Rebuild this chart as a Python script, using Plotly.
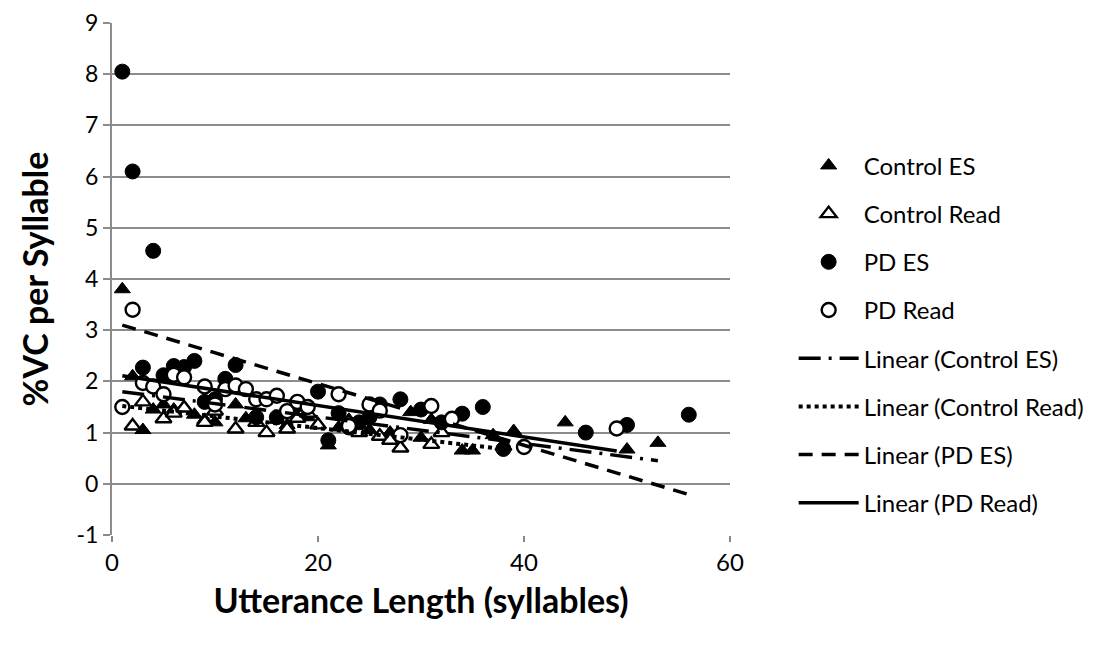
import plotly.graph_objects as go

# Control ES (filled triangles)
ctrl_es_x = [1, 2, 3, 4, 5, 6, 7, 8, 9, 10, 12, 13, 14, 16, 17, 19, 21, 22, 23, 24, 25, 27, 29, 30, 31, 34, 35, 37, 39, 44, 50, 53]
ctrl_es_y = [3.8, 2.1, 1.05, 1.45, 1.55, 1.45, 1.5, 1.35, 1.25, 1.2, 1.55, 1.28, 1.2, 1.25, 1.15, 1.3, 0.75, 1.1, 1.25, 1.15, 1.05, 1.0, 1.4, 0.9, 1.25, 0.65, 0.65, 0.95, 1.03, 1.2, 0.67, 0.8]

# Control Read (open triangles)
ctrl_rd_x = [2, 3, 5, 6, 7, 9, 10, 12, 14, 15, 17, 18, 19, 20, 23, 24, 26, 27, 28, 31, 32, 38]
ctrl_rd_y = [1.13, 1.6, 1.27, 1.38, 1.48, 1.2, 1.42, 1.07, 1.2, 1.0, 1.07, 1.28, 1.38, 1.15, 1.2, 1.0, 0.93, 0.85, 0.7, 0.77, 1.0, 0.73]

# PD ES (filled circles)
pd_es_x = [1, 2, 3, 4, 5, 6, 7, 8, 9, 10, 11, 12, 14, 16, 18, 20, 21, 22, 23, 24, 25, 26, 28, 30, 32, 34, 36, 38, 46, 50, 56]
pd_es_y = [8.05, 6.1, 2.27, 4.55, 2.12, 2.3, 2.28, 2.4, 1.6, 1.65, 2.05, 2.32, 1.3, 1.3, 1.55, 1.8, 0.85, 1.38, 1.1, 1.2, 1.3, 1.55, 1.65, 1.45, 1.2, 1.37, 1.5, 0.68, 1.0, 1.15, 1.35]

# PD Read (open circles)
pd_rd_x = [1, 2, 3, 4, 5, 6, 7, 9, 10, 11, 12, 13, 14, 15, 16, 17, 18, 19, 22, 23, 25, 26, 28, 31, 33, 40, 49]
pd_rd_y = [1.5, 3.4, 1.97, 1.9, 1.75, 2.13, 2.08, 1.9, 1.55, 1.85, 1.92, 1.85, 1.65, 1.65, 1.72, 1.42, 1.6, 1.5, 1.75, 1.13, 1.55, 1.43, 0.95, 1.52, 1.27, 0.72, 1.08]

# trendline end points
trend_ctrl_es_x = [1, 53]
trend_ctrl_es_y = [1.8, 0.45]
trend_ctrl_rd_x = [1, 38]
trend_ctrl_rd_y = [1.52, 0.68]
trend_pd_es_x = [1, 56]
trend_pd_es_y = [3.1, -0.21]
trend_pd_rd_x = [1, 49]
trend_pd_rd_y = [2.11, 0.64]

y_ticks = [-1, 0, 1, 2, 3, 4, 5, 6, 7, 8, 9]
y_tick_labels = ["-1", "0", "1", "2", "3", "4", "5", "6", "7", "8", "9"]

FONT = "Lato, 'Open Sans', sans-serif"

fig = go.Figure()

fig.add_trace(go.Scatter(
    x=ctrl_es_x, y=ctrl_es_y, mode="markers", name="Control ES",
    marker=dict(symbol="triangle-up", size=14, color="black",
                line=dict(color="black", width=1)),
    legendgroup="a",
))
fig.add_trace(go.Scatter(
    x=ctrl_rd_x, y=ctrl_rd_y, mode="markers", name="Control Read",
    marker=dict(symbol="triangle-up", size=14, color="white",
                line=dict(color="black", width=2.4)),
    legendgroup="b",
))
fig.add_trace(go.Scatter(
    x=pd_es_x, y=pd_es_y, mode="markers", name="PD ES",
    marker=dict(symbol="circle", size=15, color="black",
                line=dict(color="black", width=1)),
    legendgroup="c",
))
fig.add_trace(go.Scatter(
    x=pd_rd_x, y=pd_rd_y, mode="markers", name="PD Read",
    marker=dict(symbol="circle", size=14, color="white",
                line=dict(color="black", width=2.4)),
    legendgroup="d",
))

fig.add_trace(go.Scatter(
    x=trend_ctrl_es_x, y=trend_ctrl_es_y, mode="lines", name="Linear (Control ES)",
    line=dict(color="black", width=3.5, dash="22px,8px,3px,8px"),
    legendgroup="e",
))
fig.add_trace(go.Scatter(
    x=trend_ctrl_rd_x, y=trend_ctrl_rd_y, mode="lines", name="Linear (Control Read)",
    line=dict(color="black", width=4, dash="dot"),
    legendgroup="f",
))
fig.add_trace(go.Scatter(
    x=trend_pd_es_x, y=trend_pd_es_y, mode="lines", name="Linear (PD ES)",
    line=dict(color="black", width=3.5, dash="14px,9px"),
    legendgroup="g",
))
fig.add_trace(go.Scatter(
    x=trend_pd_rd_x, y=trend_pd_rd_y, mode="lines", name="Linear (PD Read)",
    line=dict(color="black", width=3.5),
    legendgroup="h",
))

fig.update_layout(
    width=1105, height=645,
    margin=dict(l=104, r=383, t=15, b=118),
    paper_bgcolor="white",
    plot_bgcolor="white",
    font=dict(family=FONT, color="black", size=24),
    showlegend=True,
    legend=dict(
        x=1.103, y=0.765, xanchor="left", yanchor="top",
        font=dict(size=24, family=FONT),
        tracegroupgap=14,
        itemwidth=60,
        bgcolor="rgba(0,0,0,0)",
    ),
    xaxis=dict(
        range=[0, 60], dtick=20, tick0=0,
        showgrid=False, zeroline=False,
        showline=False, automargin=False,
        ticks="outside", ticklen=6, tickcolor="#888888", tickwidth=2,
        tickfont=dict(size=24),
        title=dict(text="<b>Utterance Length (syllables)</b>",
                   font=dict(size=34), standoff=14),
    ),
    yaxis=dict(
        range=[-1, 9], tickvals=y_ticks, ticktext=y_tick_labels,
        showgrid=True, gridcolor="#8c8c8c", gridwidth=2,
        zeroline=False, automargin=False,
        ticklabeloverflow="allow",
        showline=True, linecolor="#8c8c8c", linewidth=2,
        ticks="outside", ticklen=7, tickcolor="#8c8c8c", tickwidth=2,
        tickfont=dict(size=23),
        title=dict(text="<b>%VC per Syllable</b>",
                   font=dict(size=34), standoff=18),
    ),
)

fig.write_html("out.html")
